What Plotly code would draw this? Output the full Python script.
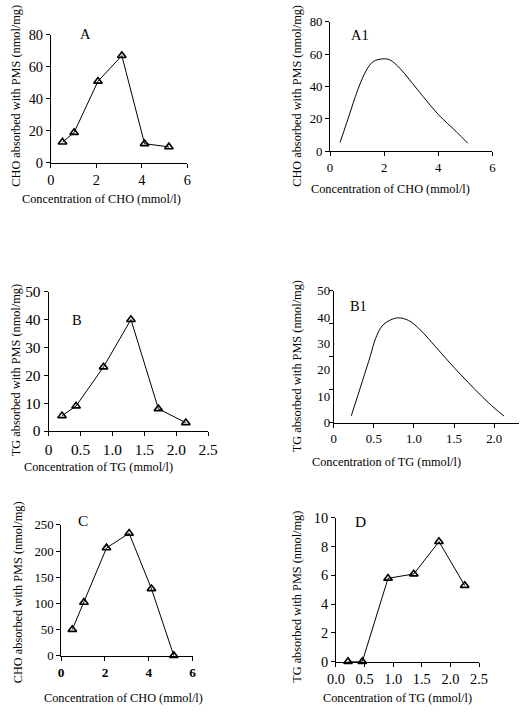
import plotly.graph_objects as go

W, H = 529, 712
FONT = "Liberation Serif"

# ---------------- data ----------------
a_x = [0.51, 1.02, 2.07, 3.12, 4.12, 5.19]
a_y = [13, 19, 51, 67, 12, 10]

a1_x = [0.37, 0.61, 0.98, 1.17, 1.35, 1.60, 1.94, 2.21, 2.58, 2.94, 3.44, 4.01, 4.66, 5.09]
a1_y = [5.4, 17.3, 35.9, 44.1, 50.3, 55.5, 57.1, 56.5, 51.3, 44.1, 33.8, 22.5, 12.2, 4.9]

b_x = [0.21, 0.43, 0.86, 1.29, 1.72, 2.15]
b_y = [5.5, 9, 23, 40, 8, 3]

b1_x = [0.219, 0.355, 0.459, 0.521, 0.603, 0.707, 0.810, 0.934, 1.058, 1.182, 1.347, 1.512, 1.678, 1.843, 2.008, 2.124]
b1_y = [2.6, 15.5, 25.5, 31.8, 36.6, 38.9, 39.7, 38.7, 35.8, 31.8, 26.1, 20.5, 15.2, 10.1, 5.4, 2.5]

c_x = [0.51, 1.04, 2.07, 3.10, 4.12, 5.14]
c_y = [50, 102, 206, 234, 128, 0]

d_x = [0.21, 0.46, 0.91, 1.36, 1.80, 2.25]
d_y = [0, 0, 5.8, 6.1, 8.35, 5.3]

x_cho_ticks = [0, 2, 4, 6]
x_tg_ticks_b = [0, 0.5, 1.0, 1.5, 2.0, 2.5]
x_tg_text_b = ["0", "0.5", "1.0", "1.5", "2.0", "2.5"]
x_tg_ticks_b1 = [0, 0.5, 1.0, 1.5, 2.0]
x_tg_text_b1 = ["0", "0.5", "1.0", "1.5", "2.0"]
x_tg_ticks_d = [0, 0.5, 1.0, 1.5, 2.0, 2.5]
x_tg_text_d = ["0.0", "0.5", "1.0", "1.5", "2.0", "2.5"]
b1_minor_ticks = [0, 12.5, 25, 37.5, 50]

cho_x_title = "Concentration of CHO (mmol/l)"
tg_x_title = "Concentration of TG (mmol/l)"
cho_y_title = "CHO absorbed with PMS (nmol/mg)"
tg_y_title = "TG absorbed with PMS (nmol/mg)"

# ---------------- layout helpers ----------------
# measured: the photographed page maps figure px f to picture px 0.9706*f+7.8 (x)
# and 0.978*f+7.8 (y); invert so positions land where the reference has them.
SX, SY, OX, OY = 0.9706, 0.978, 7.8, 7.8
FS = 1 / 0.974  # font compensation


def fx(p):
    return min(1, max(0, (p - OX) / SX / W))


def fy(p):
    return min(1, max(0, 1 - (p - OY) / SY / H))


def xd(x0, x1):
    return [fx(x0), fx(x1)]


def yd(y0, y1):
    return [fy(y1), fy(y0)]


def fsz(s):
    return round(s * FS, 1)


panels = [
    dict(xdom=(50, 187.3), ydom=(33.7, 162), xr=[0, 6], yr=[0, 80],
         xt=x_cho_ticks, xtt=None, ydt=20, fs=14),
    dict(xdom=(331, 494.5), ydom=(20.7, 150.3), xr=[0, 6], yr=[0, 80],
         xt=x_cho_ticks, xtt=None, ydt=20, fs=12.5),
    dict(xdom=(47.7, 208.3), ydom=(291, 430.7), xr=[0, 2.5], yr=[0, 50],
         xt=x_tg_ticks_b, xtt=x_tg_text_b, ydt=10, fs=15),
    dict(xdom=(334.7, 521.3), ydom=(290, 422.3), xr=[0, 2.31], yr=[0, 50],
         xt=x_tg_ticks_b1, xtt=x_tg_text_b1, ydt=10, fs=12.5),
    dict(xdom=(60.3, 192.7), ydom=(524.7, 655.7), xr=[0, 6], yr=[0, 250],
         xt=x_cho_ticks, xtt=None, ydt=50, fs=12.5),
    dict(xdom=(337, 481), ydom=(517.7, 661.7), xr=[0, 2.5], yr=[0, 10],
         xt=x_tg_ticks_d, xtt=x_tg_text_d, ydt=2, fs=14),
]

fig = go.Figure()

series = [
    (a_x, a_y, "lines+markers", "linear"),
    (a1_x, a1_y, "lines", "spline"),
    (b_x, b_y, "lines+markers", "linear"),
    (b1_x, b1_y, "lines", "spline"),
    (c_x, c_y, "lines+markers", "linear"),
    (d_x, d_y, "lines+markers", "linear"),
]

for i, (xs, ys, mode, shape) in enumerate(series):
    n = "" if i == 0 else str(i + 1)
    fig.add_trace(go.Scatter(
        x=xs, y=ys, mode=mode, xaxis="x" + n, yaxis="y" + n,
        line=dict(color="black", width=1, shape=shape),
        marker=dict(symbol="triangle-up-open", size=7.5, color="black",
                    line=dict(color="black", width=1.6)),
        cliponaxis=False, showlegend=False, hoverinfo="skip",
    ))

layout = dict(
    width=W, height=H, margin=dict(l=0, r=0, t=0, b=0),
    paper_bgcolor="white", plot_bgcolor="white", showlegend=False,
    font=dict(family=FONT, color="black"),
)

for i, p in enumerate(panels):
    n = "" if i == 0 else str(i + 1)
    xa = dict(
        domain=xd(*p["xdom"]), range=p["xr"], anchor="y" + n,
        showline=True, linecolor="black", linewidth=1, mirror=False,
        showgrid=False, zeroline=False, ticks="outside", ticklen=4,
        tickcolor="black", tickwidth=1,
        tickmode="array", tickvals=p["xt"],
        tickfont=dict(family=FONT, size=fsz(p["fs"]), color="black"),
        fixedrange=True,
    )
    if p["xtt"] is not None:
        xa["ticktext"] = p["xtt"]
    ya = dict(
        domain=yd(*p["ydom"]), range=p["yr"], anchor="x" + n,
        showline=True, linecolor="black", linewidth=1,
        showgrid=False, zeroline=False, ticks="outside", ticklen=4,
        tickcolor="black", tickwidth=1, dtick=p["ydt"], tick0=0,
        tickfont=dict(family=FONT, size=fsz(p["fs"]), color="black"),
        fixedrange=True,
    )
    if i == 3:
        ya["ticks"] = ""
        ya["minor"] = dict(tickmode="array", tickvals=b1_minor_ticks,
                           ticks="outside", ticklen=4, tickcolor="black",
                           tickwidth=1)
    if i == 4:
        xa["tickfont"] = dict(family=FONT, size=fsz(13), color="black", weight="bold")
    layout["xaxis" + n] = xa
    layout["yaxis" + n] = ya

fig.update_layout(**layout)

# ---------------- text: panel letters and axis titles ----------------
letters = [("A", 85, 33.3, 14), ("A1", 360.7, 34, 14), ("B", 76, 319, 14),
           ("B1", 360, 305.7, 14), ("C", 82.7, 520, 15), ("D", 361.7, 521.7, 15)]
for t, x, y, s in letters:
    fig.add_annotation(text=t, x=fx(x), y=fy(y), xref="paper", yref="paper",
                       showarrow=False, xanchor="center", yanchor="middle",
                       font=dict(family=FONT, size=fsz(s), color="black"))

xtitles = [(cho_x_title, 101, 198), (cho_x_title, 391.5, 188),
           (tg_x_title, 98, 467), (tg_x_title, 387.5, 461.7),
           (cho_x_title, 123, 698), (tg_x_title, 399, 698)]
for t, x, y in xtitles:
    fig.add_annotation(text=t, x=fx(x), y=fy(y), xref="paper", yref="paper",
                       showarrow=False, xanchor="center", yanchor="middle",
                       font=dict(family=FONT, size=fsz(12), color="black"))

ytitles = [(cho_y_title, 14.5, 95), (cho_y_title, 297.5, 95),
           (tg_y_title, 14.5, 370), (tg_y_title, 297.5, 366),
           (cho_y_title, 17, 592), (tg_y_title, 297.5, 597)]
for t, x, y in ytitles:
    fig.add_annotation(text=t, x=fx(x), y=fy(y), xref="paper", yref="paper",
                       showarrow=False, xanchor="center", yanchor="middle",
                       textangle=-90,
                       font=dict(family=FONT, size=fsz(12), color="black"))

fig.write_html(
    "out.html",
    config={"displayModeBar": False},
    post_script="document.body.style.margin='0';document.body.style.padding='0';"
                "document.documentElement.style.overflow='hidden';",
)
